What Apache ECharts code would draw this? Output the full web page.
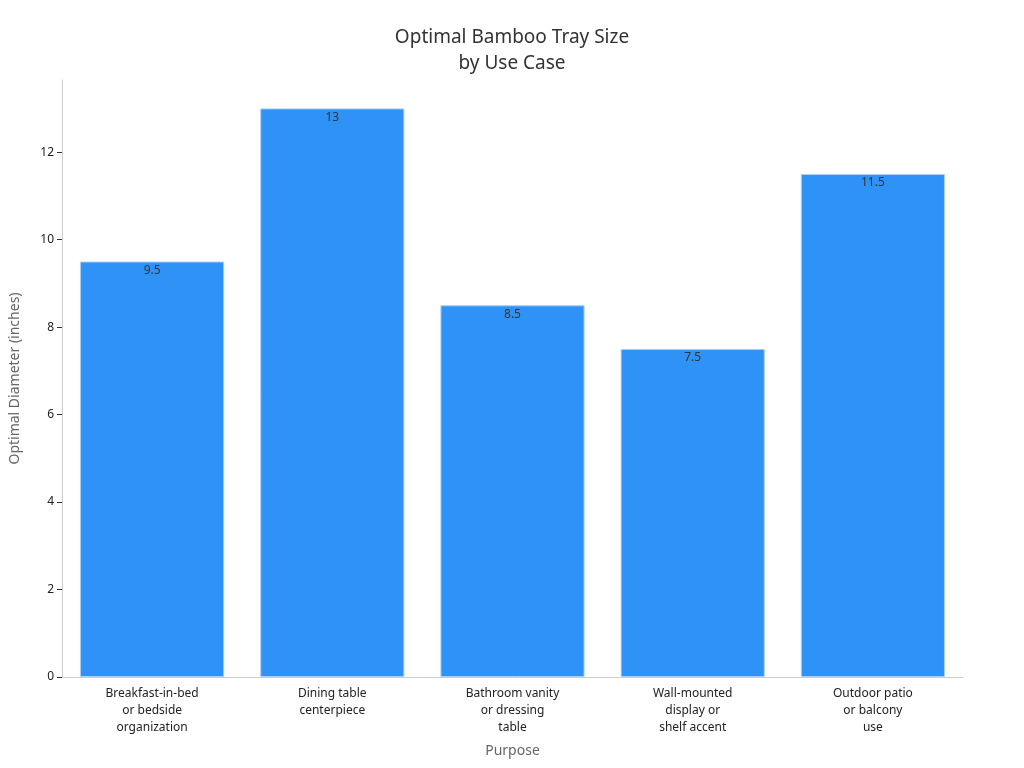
<!DOCTYPE html>
<html><head><meta charset="utf-8">
<script src="https://cdn.jsdelivr.net/npm/echarts@6/dist/echarts.min.js"></script>
<style>html,body{margin:0;padding:0;background:#fff}#c{width:1024px;height:768px}</style>
</head><body><div id="c"></div>
<script>
const categories = ["Breakfast-in-bed\nor bedside\norganization","Dining table\ncenterpiece","Bathroom vanity\nor dressing\ntable","Wall-mounted\ndisplay or\nshelf accent","Outdoor patio\nor balcony\nuse"];
const values = [9.5, 13, 8.5, 7.5, 11.5];
const chart = echarts.init(document.getElementById('c'));
chart.setOption({
  animation:false,
  title:{text:"Optimal Bamboo Tray Size\nby Use Case",left:'center',top:20,textStyle:{fontFamily:'Noto Sans',fontSize:19,fontWeight:'normal',color:'#333',lineHeight:26}},
  grid:{left:60,right:61,top:80,bottom:91},
  xAxis:{type:'category',data:categories,name:'Purpose',nameLocation:'middle',nameGap:67,
    nameTextStyle:{fontFamily:'Noto Sans',fontSize:14,color:'#666'},
    axisLine:{lineStyle:{color:'#ccc'}},axisTick:{alignWithLabel:true,lineStyle:{color:'#333'}},
    axisLabel:{fontFamily:'Noto Sans',fontSize:12,color:'#222',lineHeight:17,interval:0}},
  yAxis:{type:'value',min:0,max:13.65,interval:2,name:'Optimal Diameter (inches)',nameLocation:'middle',nameGap:40,
    nameTextStyle:{fontFamily:'Noto Sans',fontSize:14,color:'#666'},
    axisLine:{show:true,lineStyle:{color:'#ccc'}},axisTick:{show:true,lineStyle:{color:'#333'}},
    splitLine:{show:false},
    axisLabel:{fontFamily:'Noto Sans',fontSize:12,color:'#222',showMaxLabel:false}},
  series:[{type:'bar',data:values,barCategoryGap:'20%',
    itemStyle:{color:'#2f92f7',borderColor:'#a9cff7',borderWidth:1},
    label:{show:true,position:'insideTop',offset:[0,-2],color:'#333',fontFamily:'Noto Sans',fontSize:12}}]
});
</script></body></html>
